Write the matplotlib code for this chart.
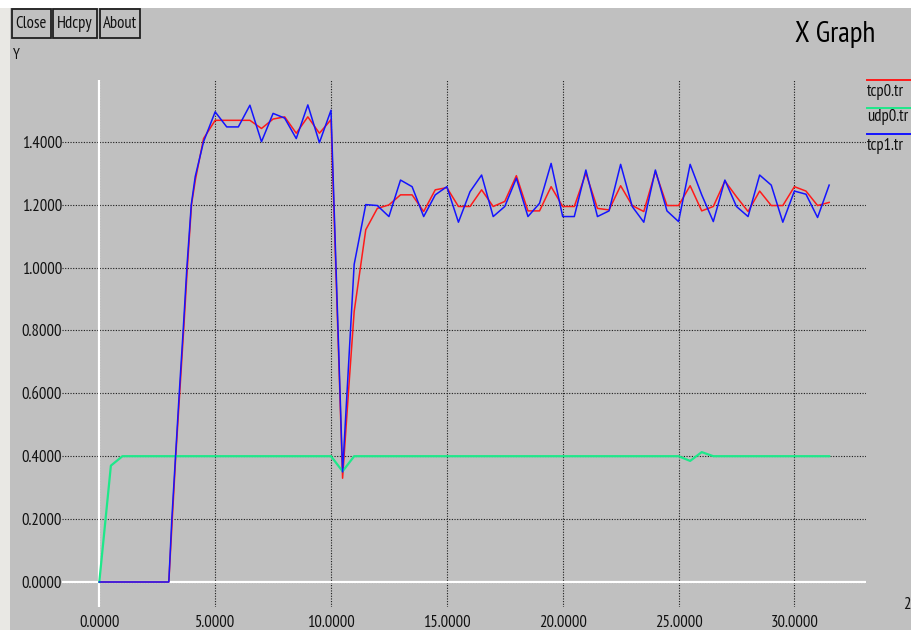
import matplotlib
matplotlib.use("Agg")
import matplotlib.pyplot as plt
from matplotlib.patches import Rectangle
from matplotlib.lines import Line2D
from matplotlib import font_manager as fm

_available = set(f.name for f in fm.fontManager.ttflist)
_candidates = ['Liberation Sans Narrow', 'Arial Narrow', 'PT Sans Narrow', 'Pragati Narrow',
               'Archivo Narrow', 'Roboto Condensed', 'Fira Sans Condensed',
               'IBM Plex Sans Condensed', 'Open Sans Condensed']
NARROW = next((c for c in _candidates if c in _available), 'Liberation Sans')
plt.rcParams['font.family'] = [NARROW, 'Liberation Sans', 'DejaVu Sans']

# ---------------- data ----------------
tcp0_t = [0.0, 3.0, 3.15, 3.3, 3.47, 3.64, 3.8, 3.98, 4.15, 4.5, 5.0, 5.5, 6.0, 6.5, 7.0,
          7.5, 8.0, 8.5, 9.0, 9.5, 10.0, 10.5, 10.75, 11.0, 11.5, 12.0, 12.5, 13.0, 13.5,
          14.0, 14.5, 15.0, 15.5, 16.0, 16.5, 17.0, 17.5, 18.0, 18.5, 19.0, 19.5, 20.0,
          20.5, 21.0, 21.5, 22.0, 22.5, 23.0, 23.5, 24.0, 24.5, 25.0, 25.5, 26.0, 26.5,
          27.0, 27.5, 28.0, 28.5, 29.0, 29.5, 30.0, 30.5, 31.0, 31.5]
tcp0_y = [0.0, 0.0, 0.2, 0.4, 0.6, 0.8, 1.0, 1.2, 1.28, 1.41, 1.468, 1.468, 1.468, 1.468, 1.442,
          1.472, 1.479, 1.427, 1.479, 1.427, 1.47, 0.33, 0.6, 0.86, 1.12, 1.188, 1.199, 1.231, 1.231,
          1.178, 1.247, 1.254, 1.194, 1.194, 1.247, 1.194, 1.21, 1.292, 1.18, 1.18, 1.257, 1.194,
          1.194, 1.30, 1.188, 1.183, 1.26, 1.197, 1.178, 1.305, 1.197, 1.197, 1.26, 1.18, 1.194,
          1.275, 1.225, 1.178, 1.243, 1.197, 1.197, 1.257, 1.243, 1.197, 1.207]

udp0_t = [0.0, 0.5, 1.0, 10.0, 10.5, 11.0, 25.0, 25.5, 26.0, 26.5, 31.5]
udp0_y = [0.0, 0.37, 0.4, 0.4, 0.352, 0.4, 0.4, 0.385, 0.413, 0.4, 0.4]

tcp1_t = [0.0, 3.0, 3.13, 3.29, 3.45, 3.62, 3.78, 3.97, 4.14, 4.5, 5.0, 5.5, 6.0, 6.5, 7.0,
          7.5, 8.0, 8.5, 9.0, 9.5, 10.0, 10.5, 11.0, 11.5, 12.0, 12.5, 13.0, 13.5, 14.0,
          14.5, 15.0, 15.5, 16.0, 16.5, 17.0, 17.5, 18.0, 18.5, 19.0, 19.5, 20.0, 20.5,
          21.0, 21.5, 22.0, 22.5, 23.0, 23.5, 24.0, 24.5, 25.0, 25.5, 26.0, 26.5, 27.0,
          27.5, 28.0, 28.5, 29.0, 29.5, 30.0, 30.5, 31.0, 31.5]
tcp1_y = [0.0, 0.0, 0.2, 0.4, 0.6, 0.8, 1.0, 1.2, 1.289, 1.40, 1.495, 1.447, 1.447, 1.516, 1.40,
          1.49, 1.475, 1.41, 1.517, 1.397, 1.50, 0.35, 1.01, 1.2, 1.197, 1.162, 1.278, 1.257, 1.162,
          1.231, 1.257, 1.144, 1.241, 1.294, 1.162, 1.194, 1.284, 1.162, 1.204, 1.331, 1.162, 1.162,
          1.31, 1.162, 1.18, 1.328, 1.194, 1.144, 1.31, 1.18, 1.146, 1.328, 1.231, 1.146, 1.278,
          1.194, 1.162, 1.294, 1.262, 1.144, 1.243, 1.233, 1.159, 1.262]

x_ticks = [0, 5, 10, 15, 20, 25, 30]
x_tick_labels = ["0.0000", "5.0000", "10.0000", "15.0000", "20.0000", "25.0000", "30.0000"]
y_ticks = [0.0, 0.2, 0.4, 0.6, 0.8, 1.0, 1.2, 1.4]
y_tick_labels = ["0.0000", "0.2000", "0.4000", "0.6000", "0.8000", "1.0000", "1.2000", "1.4000"]
legend_names = ["tcp0.tr", "udp0.tr", "tcp1.tr"]

RED = "#ff1a1a"
GREEN = "#1ee88a"
BLUE = "#1414ff"
BG = "#c0c0c0"

W, H = 912, 630
fig = plt.figure(figsize=(W / 100, H / 100), dpi=100, facecolor=BG)


def fx(x):
    return x / W


def fy(y):
    return 1 - y / H


# window decorations
fig.patches.append(Rectangle((0, fy(H)), fx(10), 1, transform=fig.transFigure,
                             facecolor="#e9e8e4", edgecolor="none", zorder=0))
fig.patches.append(Rectangle((0, fy(8)), 1, 8 / H, transform=fig.transFigure,
                             facecolor="white", edgecolor="none", zorder=0))

buttons = [("Close", 11.7, 50.7), ("Hdcpy", 53.3, 96.7), ("About", 100.0, 140.3)]
for name, x0, x1 in buttons:
    fig.patches.append(Rectangle((fx(x0), fy(37.7)), fx(x1 - x0), (37.7 - 9.3) / H,
                                 transform=fig.transFigure, facecolor=BG,
                                 edgecolor="#202020", linewidth=1.3, zorder=1))
    fig.text(fx((x0 + x1) / 2), fy(23.5), name, ha="center", va="center",
             fontsize=12, color="#111111")

fig.text(fx(13), fy(55), "Y", ha="left", va="center", fontsize=11, color="#111111")
fig.text(fx(835), fy(35), "X Graph", ha="center", va="center", fontsize=21, color="#000000")
fig.text(fx(903), fy(605), "2", ha="left", va="center", fontsize=12, color="#111111")

# legend at the right
for name, col, ly, ty in zip(legend_names, [RED, GREEN, BLUE], [80, 107.7, 134.3], [91.7, 117, 145.7]):
    fig.lines.append(Line2D([fx(867), fx(912)], [fy(ly), fy(ly)], transform=fig.transFigure,
                            color=col, linewidth=1.4))
    fig.text(fx(867), fy(ty), name, ha="left", va="center", fontsize=12, color="#111111")

# plot area
left_px, right_px, top_px, bot_px = 62, 866, 80, 607
ax = fig.add_axes([fx(left_px), fy(bot_px), fx(right_px - left_px), (bot_px - top_px) / H])
ax.patch.set_visible(False)
for s in ax.spines.values():
    s.set_visible(False)

x0_px, xs = 99.3, 23.17
y0_px, ys = 582.0, 314.5
ax.set_xlim((left_px - x0_px) / xs, (right_px - x0_px) / xs)
ax.set_ylim(-(bot_px - y0_px) / ys, (y0_px - top_px) / ys)

ax.set_xticks(x_ticks)
ax.set_xticklabels(x_tick_labels)
ax.set_yticks(y_ticks)
ax.set_yticklabels(y_tick_labels)
ax.tick_params(axis="both", length=0, labelsize=12, labelcolor="#111111")
ax.tick_params(axis="x", pad=6)
ax.tick_params(axis="y", pad=0)

ax.set_axisbelow(True)
ax.grid(True, color="#1a1a1a", linestyle=(0, (1.0, 1.4)), linewidth=0.8)
ax.axhline(0, color="white", linewidth=1.6, zorder=1)
ax.axvline(0, color="white", linewidth=1.6, zorder=1)

ax.plot(tcp0_t, tcp0_y, color=RED, linewidth=1.1, zorder=3)
ax.plot(udp0_t, udp0_y, color=GREEN, linewidth=1.6, zorder=3)
ax.plot(tcp1_t, tcp1_y, color=BLUE, linewidth=1.1, zorder=4)

fig.savefig("out.png", dpi=100, facecolor=BG)
